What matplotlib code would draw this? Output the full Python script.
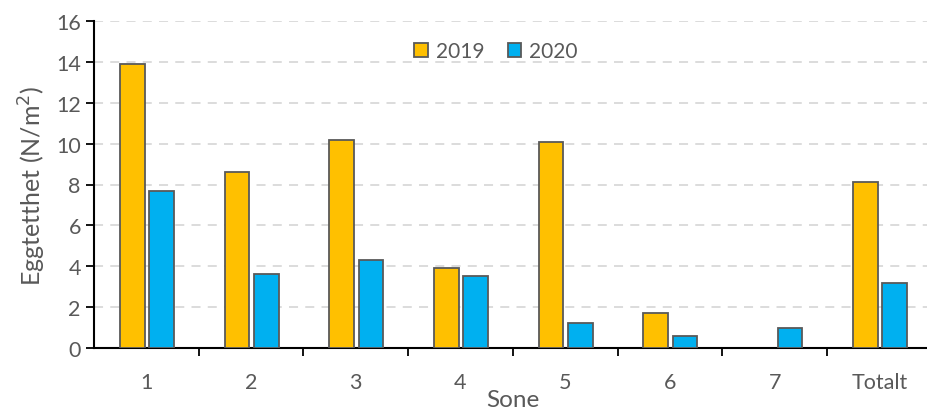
import numpy as np
import matplotlib.pyplot as plt
from matplotlib.ticker import FixedLocator

# eggtetthet per sone
soner = ['1', '2', '3', '4', '5', '6', '7', 'Totalt']
tetthet_2019 = [13.9, 8.6, 10.2, 3.9, 10.1, 1.7, 0.0, 8.1]
tetthet_2020 = [7.7, 3.6, 4.3, 3.5, 1.2, 0.6, 1.0, 3.2]

plt.rcParams['font.family'] = ['Lato', 'DejaVu Sans']
grey = '#595959'

fig = plt.figure(figsize=(9.28, 4.10), dpi=100)
ax = fig.add_axes([94 / 928, 1 - 349 / 410, (931.7 - 94) / 928, (349 - 22) / 410])

x = np.arange(len(soner))
w = 0.235
for off, vals, col, lab in [(-0.135, tetthet_2019, '#FFC000', '2019'),
                            (0.145, tetthet_2020, '#00B0F0', '2020')]:
    bars = ax.bar(x + off, vals, w, color=col, edgecolor=grey, linewidth=1.3,
                  label=lab, zorder=3)
    # no outline for empty bars
    for b, v in zip(bars, vals):
        if v == 0:
            b.set_visible(False)

ax.set_xlim(-0.5, len(soner) - 0.5)
ax.set_ylim(0, 16)
ax.set_yticks(np.arange(0, 17, 2))
ax.set_xticks(x)
ax.set_xticklabels(soner)
ax.xaxis.set_minor_locator(FixedLocator(np.arange(0.5, len(soner) - 0.5, 1)))
ax.tick_params(axis='x', which='major', length=0, pad=17, labelsize=15.5, labelcolor=grey)
ax.tick_params(axis='x', which='minor', length=6, width=1.3, direction='out', color='black')
ax.tick_params(axis='y', length=6, width=1.3, color='black', labelsize=15.5, labelcolor=grey)

ax.yaxis.grid(True, linestyle=(0, (5, 4)), color='#d9d9d9', linewidth=1.3, zorder=0)
for s in ['top', 'right']:
    ax.spines[s].set_visible(False)
for s in ['left', 'bottom']:
    ax.spines[s].set_linewidth(1.5)
    ax.spines[s].set_color('black')

ax.set_ylabel('Eggtetthet (N/m$^2$)', fontsize=18, color=grey, labelpad=6)
ax.set_xlabel('Sone', fontsize=17.5, color=grey, labelpad=-2)

ax.legend(loc='upper center', bbox_to_anchor=(0.48, 0.995), ncol=2, frameon=False,
          fontsize=15, handlelength=0.65, handleheight=0.65, handletextpad=0.4,
          columnspacing=1.1, labelcolor=grey)

fig.savefig('out.png', dpi=100)
